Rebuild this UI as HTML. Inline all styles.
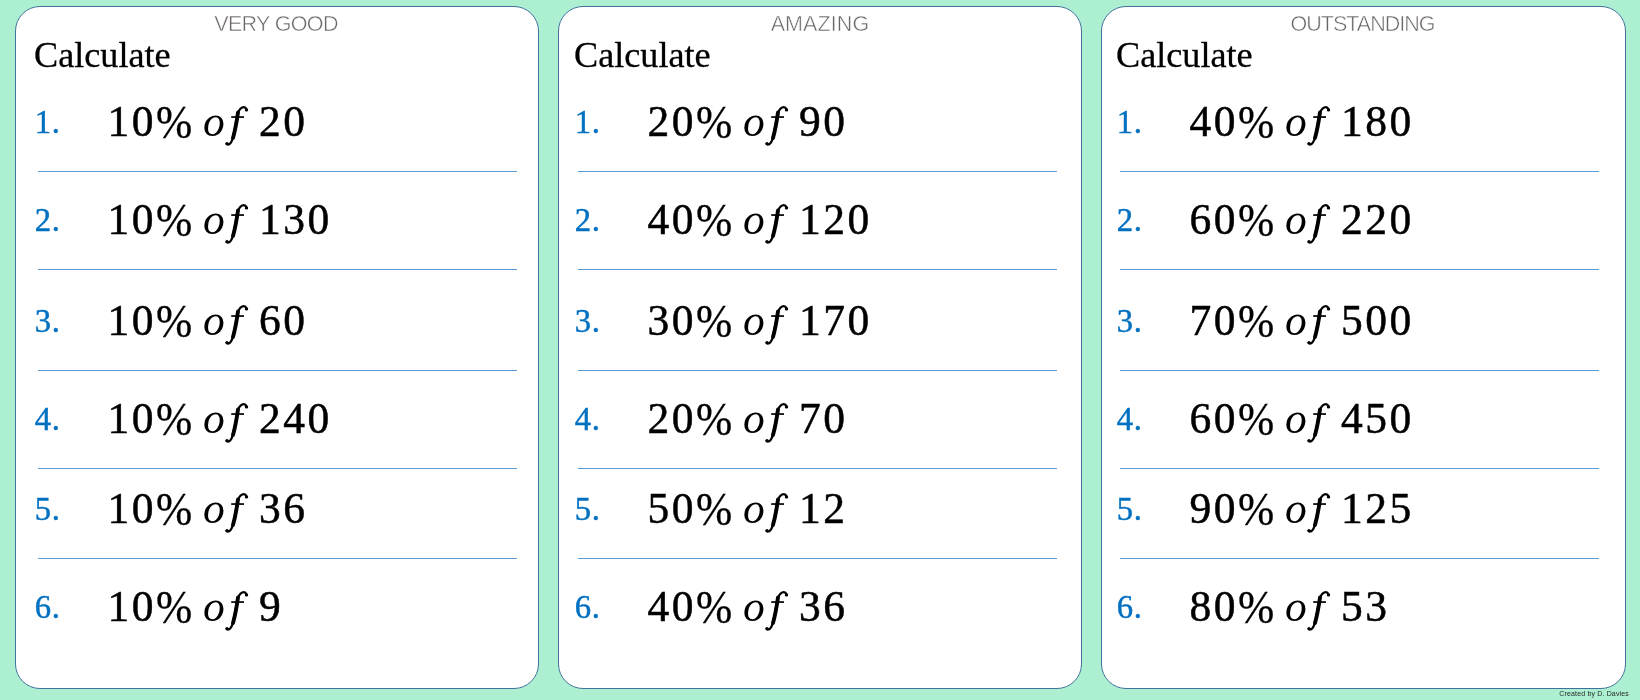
<!DOCTYPE html>
<html><head><meta charset="utf-8"><title>Calculate percentages</title>
<style>
html,body{margin:0;padding:0;}
body{width:1640px;height:700px;background:#adf0d1;overflow:hidden;position:relative;font-family:"Liberation Serif",serif;}
.card{position:absolute;top:6px;height:683px;background:#fff;border:1px solid #41719c;border-radius:25px;box-sizing:border-box;}
.txt{position:absolute;left:0;top:0;width:1640px;height:700px;will-change:transform;}
.hd{position:absolute;text-align:center;top:12.0px;font-family:"Liberation Sans",sans-serif;font-size:21.5px;line-height:24px;color:#6b6666;letter-spacing:-0.65px;white-space:nowrap;-webkit-text-stroke:0.5px #fff;}
.calc{position:absolute;top:35.0px;font-size:36.2px;line-height:40px;color:#000;white-space:nowrap;-webkit-text-stroke:0.3px #000;}
.num{position:absolute;font-size:32.7px;line-height:40px;height:40px;color:#0070c0;white-space:nowrap;letter-spacing:0.6px;-webkit-text-stroke:0.45px #0070c0;}
.eq{position:absolute;font-size:43.5px;line-height:60px;height:60px;color:#000;white-space:nowrap;letter-spacing:2.45px;-webkit-text-stroke:0.5px #000;}
.eq span,.eq i{display:inline-block;}
.eq .p{margin-left:0.0px;transform:scaleY(1.07);transform-origin:0 15.3px;-webkit-text-stroke:0.3px #000;}
.eq .o{margin-left:8.4px;-webkit-text-stroke:0;}
.eq .f{display:inline-block;margin-left:-4.0px;vertical-align:-12.7px;overflow:visible;}
.eq .b{margin-left:7.8px;}
.ln{position:absolute;width:479px;height:1px;background:#5b9bd5;}
.cr{position:absolute;right:11.0px;top:688.8px;font-family:"Liberation Sans",sans-serif;font-size:7.0px;line-height:10px;color:#262626;white-space:nowrap;letter-spacing:0.16px;}
</style></head><body>

<div class="card" style="left:15px;width:524px"></div>
<div class="card" style="left:558px;width:524px"></div>
<div class="card" style="left:1101px;width:525px"></div>
<div class="txt">
<div class="hd" style="left:14px;width:524px;letter-spacing:-0.65px">VERY GOOD</div>
<div class="calc" style="left:34.0px">Calculate</div>
<div class="num" style="left:34.8px;top:101.66px">1.</div>
<div class="eq" style="left:107.5px;top:91.32px"><span class="a">10</span><span class="p">%</span><i class="o">o</i><svg class="f" width="28" height="44" viewBox="-1 -32 28 44"><path d="M7.2 -20.8h12.8v1.7h-12.8z" fill="#000"/><path d="M22.7 -27.4C21.8 -29.4 20 -30.2 18.2 -29.5C15.6 -28.4 14 -25 13.2 -21C12 -14 10.6 -6 8.8 1C8 4 6.8 6.6 4.9 7.3C4 7.7 3.1 7.5 2.6 6.9" fill="none" stroke="#000" stroke-width="2.3" stroke-linecap="round"/><path d="M14 -24.5C12.8 -16 11 -6 9 1" fill="none" stroke="#000" stroke-width="3.9" stroke-linecap="round"/><circle cx="22.5" cy="-27.1" r="1.7" fill="#000"/><circle cx="3" cy="6.5" r="1.6" fill="#000"/></svg><span class="b">20</span></div>
<div class="num" style="left:34.8px;top:199.66px">2.</div>
<div class="eq" style="left:107.5px;top:189.32px"><span class="a">10</span><span class="p">%</span><i class="o">o</i><svg class="f" width="28" height="44" viewBox="-1 -32 28 44"><path d="M7.2 -20.8h12.8v1.7h-12.8z" fill="#000"/><path d="M22.7 -27.4C21.8 -29.4 20 -30.2 18.2 -29.5C15.6 -28.4 14 -25 13.2 -21C12 -14 10.6 -6 8.8 1C8 4 6.8 6.6 4.9 7.3C4 7.7 3.1 7.5 2.6 6.9" fill="none" stroke="#000" stroke-width="2.3" stroke-linecap="round"/><path d="M14 -24.5C12.8 -16 11 -6 9 1" fill="none" stroke="#000" stroke-width="3.9" stroke-linecap="round"/><circle cx="22.5" cy="-27.1" r="1.7" fill="#000"/><circle cx="3" cy="6.5" r="1.6" fill="#000"/></svg><span class="b">130</span></div>
<div class="num" style="left:34.8px;top:300.66px">3.</div>
<div class="eq" style="left:107.5px;top:290.32px"><span class="a">10</span><span class="p">%</span><i class="o">o</i><svg class="f" width="28" height="44" viewBox="-1 -32 28 44"><path d="M7.2 -20.8h12.8v1.7h-12.8z" fill="#000"/><path d="M22.7 -27.4C21.8 -29.4 20 -30.2 18.2 -29.5C15.6 -28.4 14 -25 13.2 -21C12 -14 10.6 -6 8.8 1C8 4 6.8 6.6 4.9 7.3C4 7.7 3.1 7.5 2.6 6.9" fill="none" stroke="#000" stroke-width="2.3" stroke-linecap="round"/><path d="M14 -24.5C12.8 -16 11 -6 9 1" fill="none" stroke="#000" stroke-width="3.9" stroke-linecap="round"/><circle cx="22.5" cy="-27.1" r="1.7" fill="#000"/><circle cx="3" cy="6.5" r="1.6" fill="#000"/></svg><span class="b">60</span></div>
<div class="num" style="left:34.8px;top:398.66px">4.</div>
<div class="eq" style="left:107.5px;top:388.32px"><span class="a">10</span><span class="p">%</span><i class="o">o</i><svg class="f" width="28" height="44" viewBox="-1 -32 28 44"><path d="M7.2 -20.8h12.8v1.7h-12.8z" fill="#000"/><path d="M22.7 -27.4C21.8 -29.4 20 -30.2 18.2 -29.5C15.6 -28.4 14 -25 13.2 -21C12 -14 10.6 -6 8.8 1C8 4 6.8 6.6 4.9 7.3C4 7.7 3.1 7.5 2.6 6.9" fill="none" stroke="#000" stroke-width="2.3" stroke-linecap="round"/><path d="M14 -24.5C12.8 -16 11 -6 9 1" fill="none" stroke="#000" stroke-width="3.9" stroke-linecap="round"/><circle cx="22.5" cy="-27.1" r="1.7" fill="#000"/><circle cx="3" cy="6.5" r="1.6" fill="#000"/></svg><span class="b">240</span></div>
<div class="num" style="left:34.8px;top:488.66px">5.</div>
<div class="eq" style="left:107.5px;top:478.32px"><span class="a">10</span><span class="p">%</span><i class="o">o</i><svg class="f" width="28" height="44" viewBox="-1 -32 28 44"><path d="M7.2 -20.8h12.8v1.7h-12.8z" fill="#000"/><path d="M22.7 -27.4C21.8 -29.4 20 -30.2 18.2 -29.5C15.6 -28.4 14 -25 13.2 -21C12 -14 10.6 -6 8.8 1C8 4 6.8 6.6 4.9 7.3C4 7.7 3.1 7.5 2.6 6.9" fill="none" stroke="#000" stroke-width="2.3" stroke-linecap="round"/><path d="M14 -24.5C12.8 -16 11 -6 9 1" fill="none" stroke="#000" stroke-width="3.9" stroke-linecap="round"/><circle cx="22.5" cy="-27.1" r="1.7" fill="#000"/><circle cx="3" cy="6.5" r="1.6" fill="#000"/></svg><span class="b">36</span></div>
<div class="num" style="left:34.8px;top:586.66px">6.</div>
<div class="eq" style="left:107.5px;top:576.32px"><span class="a">10</span><span class="p">%</span><i class="o">o</i><svg class="f" width="28" height="44" viewBox="-1 -32 28 44"><path d="M7.2 -20.8h12.8v1.7h-12.8z" fill="#000"/><path d="M22.7 -27.4C21.8 -29.4 20 -30.2 18.2 -29.5C15.6 -28.4 14 -25 13.2 -21C12 -14 10.6 -6 8.8 1C8 4 6.8 6.6 4.9 7.3C4 7.7 3.1 7.5 2.6 6.9" fill="none" stroke="#000" stroke-width="2.3" stroke-linecap="round"/><path d="M14 -24.5C12.8 -16 11 -6 9 1" fill="none" stroke="#000" stroke-width="3.9" stroke-linecap="round"/><circle cx="22.5" cy="-27.1" r="1.7" fill="#000"/><circle cx="3" cy="6.5" r="1.6" fill="#000"/></svg><span class="b">9</span></div>
<div class="ln" style="left:38px;top:171px"></div>
<div class="ln" style="left:38px;top:269px"></div>
<div class="ln" style="left:38px;top:370px"></div>
<div class="ln" style="left:38px;top:468px"></div>
<div class="ln" style="left:38px;top:558px"></div>
<div class="hd" style="left:558px;width:524px;letter-spacing:0.1px">AMAZING</div>
<div class="calc" style="left:574.0px">Calculate</div>
<div class="num" style="left:574.8px;top:101.66px">1.</div>
<div class="eq" style="left:647.5px;top:91.32px"><span class="a">20</span><span class="p">%</span><i class="o">o</i><svg class="f" width="28" height="44" viewBox="-1 -32 28 44"><path d="M7.2 -20.8h12.8v1.7h-12.8z" fill="#000"/><path d="M22.7 -27.4C21.8 -29.4 20 -30.2 18.2 -29.5C15.6 -28.4 14 -25 13.2 -21C12 -14 10.6 -6 8.8 1C8 4 6.8 6.6 4.9 7.3C4 7.7 3.1 7.5 2.6 6.9" fill="none" stroke="#000" stroke-width="2.3" stroke-linecap="round"/><path d="M14 -24.5C12.8 -16 11 -6 9 1" fill="none" stroke="#000" stroke-width="3.9" stroke-linecap="round"/><circle cx="22.5" cy="-27.1" r="1.7" fill="#000"/><circle cx="3" cy="6.5" r="1.6" fill="#000"/></svg><span class="b">90</span></div>
<div class="num" style="left:574.8px;top:199.66px">2.</div>
<div class="eq" style="left:647.5px;top:189.32px"><span class="a">40</span><span class="p">%</span><i class="o">o</i><svg class="f" width="28" height="44" viewBox="-1 -32 28 44"><path d="M7.2 -20.8h12.8v1.7h-12.8z" fill="#000"/><path d="M22.7 -27.4C21.8 -29.4 20 -30.2 18.2 -29.5C15.6 -28.4 14 -25 13.2 -21C12 -14 10.6 -6 8.8 1C8 4 6.8 6.6 4.9 7.3C4 7.7 3.1 7.5 2.6 6.9" fill="none" stroke="#000" stroke-width="2.3" stroke-linecap="round"/><path d="M14 -24.5C12.8 -16 11 -6 9 1" fill="none" stroke="#000" stroke-width="3.9" stroke-linecap="round"/><circle cx="22.5" cy="-27.1" r="1.7" fill="#000"/><circle cx="3" cy="6.5" r="1.6" fill="#000"/></svg><span class="b">120</span></div>
<div class="num" style="left:574.8px;top:300.66px">3.</div>
<div class="eq" style="left:647.5px;top:290.32px"><span class="a">30</span><span class="p">%</span><i class="o">o</i><svg class="f" width="28" height="44" viewBox="-1 -32 28 44"><path d="M7.2 -20.8h12.8v1.7h-12.8z" fill="#000"/><path d="M22.7 -27.4C21.8 -29.4 20 -30.2 18.2 -29.5C15.6 -28.4 14 -25 13.2 -21C12 -14 10.6 -6 8.8 1C8 4 6.8 6.6 4.9 7.3C4 7.7 3.1 7.5 2.6 6.9" fill="none" stroke="#000" stroke-width="2.3" stroke-linecap="round"/><path d="M14 -24.5C12.8 -16 11 -6 9 1" fill="none" stroke="#000" stroke-width="3.9" stroke-linecap="round"/><circle cx="22.5" cy="-27.1" r="1.7" fill="#000"/><circle cx="3" cy="6.5" r="1.6" fill="#000"/></svg><span class="b">170</span></div>
<div class="num" style="left:574.8px;top:398.66px">4.</div>
<div class="eq" style="left:647.5px;top:388.32px"><span class="a">20</span><span class="p">%</span><i class="o">o</i><svg class="f" width="28" height="44" viewBox="-1 -32 28 44"><path d="M7.2 -20.8h12.8v1.7h-12.8z" fill="#000"/><path d="M22.7 -27.4C21.8 -29.4 20 -30.2 18.2 -29.5C15.6 -28.4 14 -25 13.2 -21C12 -14 10.6 -6 8.8 1C8 4 6.8 6.6 4.9 7.3C4 7.7 3.1 7.5 2.6 6.9" fill="none" stroke="#000" stroke-width="2.3" stroke-linecap="round"/><path d="M14 -24.5C12.8 -16 11 -6 9 1" fill="none" stroke="#000" stroke-width="3.9" stroke-linecap="round"/><circle cx="22.5" cy="-27.1" r="1.7" fill="#000"/><circle cx="3" cy="6.5" r="1.6" fill="#000"/></svg><span class="b">70</span></div>
<div class="num" style="left:574.8px;top:488.66px">5.</div>
<div class="eq" style="left:647.5px;top:478.32px"><span class="a">50</span><span class="p">%</span><i class="o">o</i><svg class="f" width="28" height="44" viewBox="-1 -32 28 44"><path d="M7.2 -20.8h12.8v1.7h-12.8z" fill="#000"/><path d="M22.7 -27.4C21.8 -29.4 20 -30.2 18.2 -29.5C15.6 -28.4 14 -25 13.2 -21C12 -14 10.6 -6 8.8 1C8 4 6.8 6.6 4.9 7.3C4 7.7 3.1 7.5 2.6 6.9" fill="none" stroke="#000" stroke-width="2.3" stroke-linecap="round"/><path d="M14 -24.5C12.8 -16 11 -6 9 1" fill="none" stroke="#000" stroke-width="3.9" stroke-linecap="round"/><circle cx="22.5" cy="-27.1" r="1.7" fill="#000"/><circle cx="3" cy="6.5" r="1.6" fill="#000"/></svg><span class="b">12</span></div>
<div class="num" style="left:574.8px;top:586.66px">6.</div>
<div class="eq" style="left:647.5px;top:576.32px"><span class="a">40</span><span class="p">%</span><i class="o">o</i><svg class="f" width="28" height="44" viewBox="-1 -32 28 44"><path d="M7.2 -20.8h12.8v1.7h-12.8z" fill="#000"/><path d="M22.7 -27.4C21.8 -29.4 20 -30.2 18.2 -29.5C15.6 -28.4 14 -25 13.2 -21C12 -14 10.6 -6 8.8 1C8 4 6.8 6.6 4.9 7.3C4 7.7 3.1 7.5 2.6 6.9" fill="none" stroke="#000" stroke-width="2.3" stroke-linecap="round"/><path d="M14 -24.5C12.8 -16 11 -6 9 1" fill="none" stroke="#000" stroke-width="3.9" stroke-linecap="round"/><circle cx="22.5" cy="-27.1" r="1.7" fill="#000"/><circle cx="3" cy="6.5" r="1.6" fill="#000"/></svg><span class="b">36</span></div>
<div class="ln" style="left:578px;top:171px"></div>
<div class="ln" style="left:578px;top:269px"></div>
<div class="ln" style="left:578px;top:370px"></div>
<div class="ln" style="left:578px;top:468px"></div>
<div class="ln" style="left:578px;top:558px"></div>
<div class="hd" style="left:1100px;width:525px;letter-spacing:-1.0px">OUTSTANDING</div>
<div class="calc" style="left:1116.0px">Calculate</div>
<div class="num" style="left:1116.8px;top:101.66px">1.</div>
<div class="eq" style="left:1189.5px;top:91.32px"><span class="a">40</span><span class="p">%</span><i class="o">o</i><svg class="f" width="28" height="44" viewBox="-1 -32 28 44"><path d="M7.2 -20.8h12.8v1.7h-12.8z" fill="#000"/><path d="M22.7 -27.4C21.8 -29.4 20 -30.2 18.2 -29.5C15.6 -28.4 14 -25 13.2 -21C12 -14 10.6 -6 8.8 1C8 4 6.8 6.6 4.9 7.3C4 7.7 3.1 7.5 2.6 6.9" fill="none" stroke="#000" stroke-width="2.3" stroke-linecap="round"/><path d="M14 -24.5C12.8 -16 11 -6 9 1" fill="none" stroke="#000" stroke-width="3.9" stroke-linecap="round"/><circle cx="22.5" cy="-27.1" r="1.7" fill="#000"/><circle cx="3" cy="6.5" r="1.6" fill="#000"/></svg><span class="b">180</span></div>
<div class="num" style="left:1116.8px;top:199.66px">2.</div>
<div class="eq" style="left:1189.5px;top:189.32px"><span class="a">60</span><span class="p">%</span><i class="o">o</i><svg class="f" width="28" height="44" viewBox="-1 -32 28 44"><path d="M7.2 -20.8h12.8v1.7h-12.8z" fill="#000"/><path d="M22.7 -27.4C21.8 -29.4 20 -30.2 18.2 -29.5C15.6 -28.4 14 -25 13.2 -21C12 -14 10.6 -6 8.8 1C8 4 6.8 6.6 4.9 7.3C4 7.7 3.1 7.5 2.6 6.9" fill="none" stroke="#000" stroke-width="2.3" stroke-linecap="round"/><path d="M14 -24.5C12.8 -16 11 -6 9 1" fill="none" stroke="#000" stroke-width="3.9" stroke-linecap="round"/><circle cx="22.5" cy="-27.1" r="1.7" fill="#000"/><circle cx="3" cy="6.5" r="1.6" fill="#000"/></svg><span class="b">220</span></div>
<div class="num" style="left:1116.8px;top:300.66px">3.</div>
<div class="eq" style="left:1189.5px;top:290.32px"><span class="a">70</span><span class="p">%</span><i class="o">o</i><svg class="f" width="28" height="44" viewBox="-1 -32 28 44"><path d="M7.2 -20.8h12.8v1.7h-12.8z" fill="#000"/><path d="M22.7 -27.4C21.8 -29.4 20 -30.2 18.2 -29.5C15.6 -28.4 14 -25 13.2 -21C12 -14 10.6 -6 8.8 1C8 4 6.8 6.6 4.9 7.3C4 7.7 3.1 7.5 2.6 6.9" fill="none" stroke="#000" stroke-width="2.3" stroke-linecap="round"/><path d="M14 -24.5C12.8 -16 11 -6 9 1" fill="none" stroke="#000" stroke-width="3.9" stroke-linecap="round"/><circle cx="22.5" cy="-27.1" r="1.7" fill="#000"/><circle cx="3" cy="6.5" r="1.6" fill="#000"/></svg><span class="b">500</span></div>
<div class="num" style="left:1116.8px;top:398.66px">4.</div>
<div class="eq" style="left:1189.5px;top:388.32px"><span class="a">60</span><span class="p">%</span><i class="o">o</i><svg class="f" width="28" height="44" viewBox="-1 -32 28 44"><path d="M7.2 -20.8h12.8v1.7h-12.8z" fill="#000"/><path d="M22.7 -27.4C21.8 -29.4 20 -30.2 18.2 -29.5C15.6 -28.4 14 -25 13.2 -21C12 -14 10.6 -6 8.8 1C8 4 6.8 6.6 4.9 7.3C4 7.7 3.1 7.5 2.6 6.9" fill="none" stroke="#000" stroke-width="2.3" stroke-linecap="round"/><path d="M14 -24.5C12.8 -16 11 -6 9 1" fill="none" stroke="#000" stroke-width="3.9" stroke-linecap="round"/><circle cx="22.5" cy="-27.1" r="1.7" fill="#000"/><circle cx="3" cy="6.5" r="1.6" fill="#000"/></svg><span class="b">450</span></div>
<div class="num" style="left:1116.8px;top:488.66px">5.</div>
<div class="eq" style="left:1189.5px;top:478.32px"><span class="a">90</span><span class="p">%</span><i class="o">o</i><svg class="f" width="28" height="44" viewBox="-1 -32 28 44"><path d="M7.2 -20.8h12.8v1.7h-12.8z" fill="#000"/><path d="M22.7 -27.4C21.8 -29.4 20 -30.2 18.2 -29.5C15.6 -28.4 14 -25 13.2 -21C12 -14 10.6 -6 8.8 1C8 4 6.8 6.6 4.9 7.3C4 7.7 3.1 7.5 2.6 6.9" fill="none" stroke="#000" stroke-width="2.3" stroke-linecap="round"/><path d="M14 -24.5C12.8 -16 11 -6 9 1" fill="none" stroke="#000" stroke-width="3.9" stroke-linecap="round"/><circle cx="22.5" cy="-27.1" r="1.7" fill="#000"/><circle cx="3" cy="6.5" r="1.6" fill="#000"/></svg><span class="b">125</span></div>
<div class="num" style="left:1116.8px;top:586.66px">6.</div>
<div class="eq" style="left:1189.5px;top:576.32px"><span class="a">80</span><span class="p">%</span><i class="o">o</i><svg class="f" width="28" height="44" viewBox="-1 -32 28 44"><path d="M7.2 -20.8h12.8v1.7h-12.8z" fill="#000"/><path d="M22.7 -27.4C21.8 -29.4 20 -30.2 18.2 -29.5C15.6 -28.4 14 -25 13.2 -21C12 -14 10.6 -6 8.8 1C8 4 6.8 6.6 4.9 7.3C4 7.7 3.1 7.5 2.6 6.9" fill="none" stroke="#000" stroke-width="2.3" stroke-linecap="round"/><path d="M14 -24.5C12.8 -16 11 -6 9 1" fill="none" stroke="#000" stroke-width="3.9" stroke-linecap="round"/><circle cx="22.5" cy="-27.1" r="1.7" fill="#000"/><circle cx="3" cy="6.5" r="1.6" fill="#000"/></svg><span class="b">53</span></div>
<div class="ln" style="left:1120px;top:171px"></div>
<div class="ln" style="left:1120px;top:269px"></div>
<div class="ln" style="left:1120px;top:370px"></div>
<div class="ln" style="left:1120px;top:468px"></div>
<div class="ln" style="left:1120px;top:558px"></div>
<div class="cr">Created by D. Davies</div>
</div>
</body></html>
